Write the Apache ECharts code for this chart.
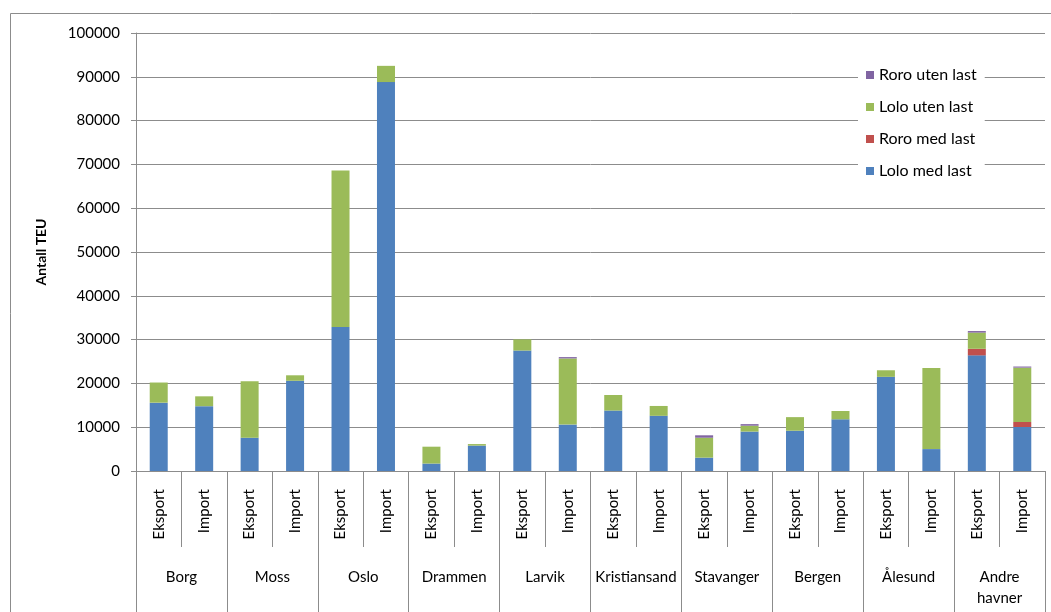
<!DOCTYPE html>
<html>
<head>
<meta charset="utf-8">
<script src="https://cdn.jsdelivr.net/npm/echarts@6/dist/echarts.min.js"></script>
<style>
  html, body { margin: 0; padding: 0; background: #fff; }
  #chart { width: 1051px; height: 612px; }
</style>
</head>
<body>
<div id="chart"></div>
<script>
// Port groups and the direction within each port
const ports = ['Borg', 'Moss', 'Oslo', 'Drammen', 'Larvik', 'Kristiansand', 'Stavanger', 'Bergen', 'Ålesund', 'Andre\nhavner'];
const directions = ['Eksport', 'Import'];

// TEU per port/direction, in the order Eksport, Import for each port
const loloMedLast  = [15600, 14800, 7600, 20600, 32900, 88800, 1700, 5800, 27500, 10600, 13800, 12600, 3050, 9000, 9200, 11800, 21500, 5000, 26400, 10050];
const roroMedLast  = [0, 0, 0, 0, 0, 0, 0, 0, 0, 0, 0, 0, 0, 0, 0, 0, 0, 0, 1500, 1150];
const loloUtenLast = [4600, 2250, 12900, 1250, 35700, 3700, 3850, 350, 2550, 15100, 3550, 2250, 4550, 1350, 3100, 1900, 1500, 18500, 3700, 12400];
const roroUtenLast = [0, 0, 0, 0, 0, 0, 0, 0, 0, 300, 0, 0, 550, 350, 0, 0, 0, 0, 350, 250];

const yTicks = { min: 0, max: 100000, interval: 10000 };

const subCategories = [];
ports.forEach(() => directions.forEach(d => subCategories.push(d)));

const FONT = 'Lato';
const GRAY = '#8c8c8c';

const chart = echarts.init(document.getElementById('chart'), null, { renderer: 'canvas' });

// Empty segments are left out of the stack
function bar(name, data, color) {
  return {
    name, type: 'bar', stack: 'teu', barWidth: 18,
    data: data.map(v => (v === 0 ? '-' : v)),
    itemStyle: { color },
    emphasis: { disabled: true }
  };
}

chart.setOption({
  backgroundColor: '#fff',
  animation: false,
  textStyle: { fontFamily: FONT },
  graphic: [{
    type: 'rect', silent: true, z: -1,
    shape: { x: 10.5, y: 13.5, width: 1100, height: 700 },
    style: { fill: 'none', stroke: GRAY, lineWidth: 1 }
  }],
  grid: { left: 136, right: 6, top: 33, bottom: 141, containLabel: false },
  legend: {
    orient: 'vertical', left: 858, top: 63,
    data: ['Roro uten last', 'Lolo uten last', 'Roro med last', 'Lolo med last'],
    itemWidth: 8, itemHeight: 8, itemGap: 16,
    backgroundColor: '#fff', padding: [4, 8],
    icon: 'rect',
    textStyle: { fontFamily: FONT, fontSize: 16, color: '#000' }
  },
  xAxis: [{
    type: 'category', data: subCategories,
    axisLine: { lineStyle: { color: GRAY } },
    axisTick: { show: true, length: 76, interval: 0, lineStyle: { color: GRAY } },
    axisLabel: { interval: 0, rotate: 90, margin: 18, fontFamily: FONT, fontSize: 15, color: '#000' }
  }, {
    type: 'category', data: ports, position: 'bottom',
    axisLine: { lineStyle: { color: GRAY } },
    axisTick: { show: true, length: 141, interval: 0, lineStyle: { color: GRAY } },
    axisLabel: { interval: 0, margin: 96, fontFamily: FONT, fontSize: 15, color: '#000', lineHeight: 21 }
  }],
  yAxis: {
    type: 'value', min: yTicks.min, max: yTicks.max, interval: yTicks.interval,
    name: 'Antall TEU', nameLocation: 'middle', nameGap: 88, nameRotate: 90,
    nameTextStyle: { fontFamily: FONT, fontSize: 14, fontWeight: 'bold', color: '#000' },
    axisLine: { show: true, lineStyle: { color: GRAY } },
    axisTick: { show: true, length: 5, lineStyle: { color: GRAY } },
    axisLabel: { margin: 16, fontFamily: FONT, fontSize: 15, color: '#000', formatter: v => String(v) },
    splitLine: { lineStyle: { color: GRAY } }
  },
  series: [
    bar('Lolo med last', loloMedLast, '#4F81BD'),
    bar('Roro med last', roroMedLast, '#C0504D'),
    bar('Lolo uten last', loloUtenLast, '#9BBB59'),
    bar('Roro uten last', roroUtenLast, '#8064A2')
  ]
});
</script>
</body>
</html>
